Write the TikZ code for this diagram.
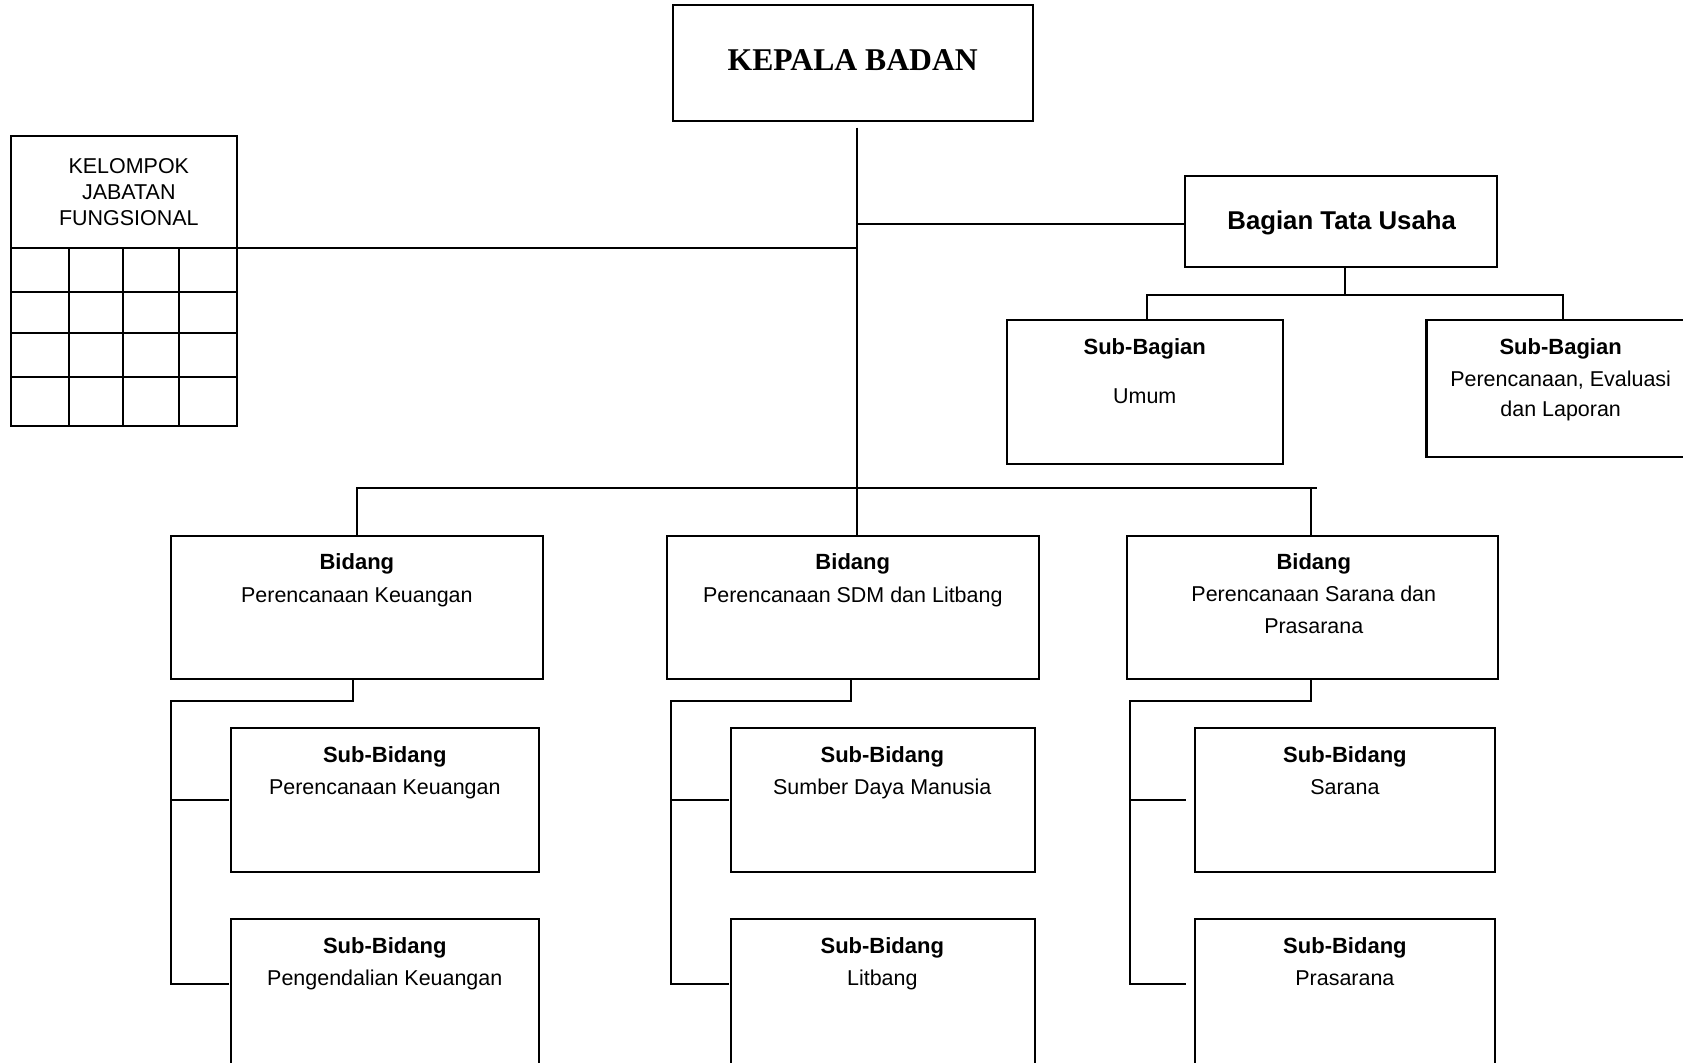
\documentclass[tikz,border=0pt]{standalone}
\usepackage{fontspec}
\setmainfont{Liberation Sans}
\newfontfamily\titlefont{Liberation Serif}
\usetikzlibrary{calc}

\begin{document}
\begin{tikzpicture}[x=1pt, y=-1pt, line width=1.9pt,
  box/.style={draw, rectangle, inner sep=0pt, outer sep=0pt, anchor=north west},
  txt/.style={inner sep=0pt, anchor=base, font=\fontsize{20}{24}\selectfont},
  hd/.style={inner sep=0pt, anchor=base, font=\fontsize{20.5}{24}\selectfont\bfseries}]

\useasboundingbox (0,0) rectangle (1568,990);
\clip (0,0) rectangle (1568,990);

% ---------------- boxes ----------------
\node[box, minimum width=335pt, minimum height=108pt] (kb)  at (627,5) {};
\node[box, minimum width=211pt, minimum height=270pt] (kjf) at (10,127) {};
\node[box, minimum width=291pt, minimum height=85pt]  (btu) at (1104,164) {};
\node[box, minimum width=257pt, minimum height=134pt] (sbu) at (938,298) {};
\node[box, minimum width=250pt, minimum height=128pt] (sbp) at (1329,298) {};

\node[box, minimum width=347pt, minimum height=134pt] (bk) at (159,499) {};
\node[box, minimum width=347pt, minimum height=134pt] (bs) at (621,499) {};
\node[box, minimum width=346pt, minimum height=134pt] (bp) at (1050,499) {};

\node[box, minimum width=287pt, minimum height=134pt] (sk1) at (215,678) {};
\node[box, minimum width=287pt, minimum height=160pt] (sk2) at (215,856) {};
\node[box, minimum width=283pt, minimum height=134pt] (ss1) at (681,678) {};
\node[box, minimum width=283pt, minimum height=160pt] (ss2) at (681,856) {};
\node[box, minimum width=280pt, minimum height=134pt] (sp1) at (1113,678) {};
\node[box, minimum width=280pt, minimum height=160pt] (sp2) at (1113,856) {};

% ---------------- grid of the functional group ----------------
\coordinate (hj) at ($(kjf.north west)+(0,104)$);
\draw (hj) -- (hj -| kjf.east);
\foreach \yy in {145,183,224}
  \draw ($(kjf.north west)+(0,\yy)$) -- ($(kjf.north east)+(0,\yy)$);
\foreach \xx in {54,105,157}
  \draw ($(hj)+(\xx,0)$) -- ($(kjf.south west)+(\xx,0)$);

% ---------------- texts ----------------
\node[inner sep=0pt, font=\titlefont\fontsize{29.5}{33}\selectfont\bfseries] (tkb) at (794.5,56) {KEPALA BADAN};

\node[txt] (tj1) at (120,161.5) {KELOMPOK};
\node[txt] (tj2) at (120,186) {JABATAN};
\node[txt] (tj3) at (120,210.5) {FUNGSIONAL};

\node[inner sep=0pt, anchor=base, font=\fontsize{24}{28}\selectfont\bfseries] (tbtu) at (1250,214) {Bagian Tata Usaha};

\node[hd]  (tsbu1) at (1066.5,330) {Sub-Bagian};
\node[txt] (tsbu2) at (1066.5,376) {Umum};

\node[hd]  (tsbp1) at (1454,330) {Sub-Bagian};
\node[txt] (tsbp2) at (1454,360) {Perencanaan, Evaluasi};
\node[txt] (tsbp3) at (1454,388) {dan Laporan};

\node[hd]  (tbk1) at (332.5,531) {Bidang};
\node[txt] (tbk2) at (332.5,561) {Perencanaan Keuangan};
\node[hd]  (tbs1) at (794.5,531) {Bidang};
\node[txt] (tbs2) at (794.5,561) {Perencanaan SDM dan Litbang};
\node[hd]  (tbp1) at (1224,531) {Bidang};
\node[txt] (tbp2) at (1224,560) {Perencanaan Sarana dan};
\node[txt] (tbp3) at (1224,590) {Prasarana};

\node[hd]  (tsk1a) at (358.5,710) {Sub-Bidang};
\node[txt] (tsk1b) at (358.5,740) {Perencanaan Keuangan};
\node[hd]  (tsk2a) at (358.5,888) {Sub-Bidang};
\node[txt] (tsk2b) at (358.5,918) {Pengendalian Keuangan};

\node[hd]  (tss1a) at (822,710) {Sub-Bidang};
\node[txt] (tss1b) at (822,740) {Sumber Daya Manusia};
\node[hd]  (tss2a) at (822,888) {Sub-Bidang};
\node[txt] (tss2b) at (822,918) {Litbang};

\node[hd]  (tsp1a) at (1253,710) {Sub-Bidang};
\node[txt] (tsp1b) at (1253,740) {Sarana};
\node[hd]  (tsp2a) at (1253,888) {Sub-Bidang};
\node[txt] (tsp2b) at (1253,918) {Prasarana};

% ---------------- main trunk and its branches ----------------
\coordinate (t0) at (798,119);
\coordinate (bar) at (798,455);
\draw (t0) -- (t0 |- bs.north);
\draw (hj) -- (hj -| t0);
\draw ($(btu.west)+(0,2.5)$) -- ($(btu.west -| t0)+(0,2.5)$);

% Bagian Tata Usaha to its sub-sections
\coordinate (bj) at (1253,275);
\draw (btu.south -| bj) -- (bj);
\draw ($(sbu.north)+(2.5,0)$) -- ($(sbu.north |- bj)+(2.5,0)$) -- ($(sbp.north |- bj)+(2,0)$) -- ($(sbp.north)+(2,0)$);

% bar over the three fields
\draw (bk.north) -- (bk.north |- bar) -- ($(bp.north |- bar)+(4,0)$);
\draw ($(bp.north)+(-2,0)$) -- ($(bp.north |- bar)+(-2,0)$);

% field: Perencanaan Keuangan
\coordinate (kL) at (159,653);
\draw ($(bk.south)+(-3.5,0)$) -- ($(bk.south |- kL)+(-3.5,0)$) -- (kL) -- ($(kL |- sk2.north)+(0,61)$) -- ($(sk2.north west)+(-2,61)$);
\draw (kL |- sk1.west) -- ($(sk1.west)+(-2,0)$);

% field: Perencanaan SDM dan Litbang
\coordinate (sL) at (625,653);
\draw ($(bs.south)+(-1.5,0)$) -- ($(bs.south |- sL)+(-1.5,0)$) -- (sL) -- ($(sL |- ss2.north)+(0,61)$) -- ($(ss2.north west)+(-2,61)$);
\draw (sL |- ss1.west) -- ($(ss1.west)+(-2,0)$);

% field: Perencanaan Sarana dan Prasarana
\coordinate (pL) at (1053,653);
\draw ($(bp.south)+(-2,0)$) -- ($(bp.south |- pL)+(-2,0)$) -- (pL) -- ($(pL |- sp2.north)+(0,61)$) -- ($(sp2.north west)+(-8,61)$);
\draw (pL |- sp1.west) -- ($(sp1.west)+(-8,0)$);

\end{tikzpicture}
\end{document}
